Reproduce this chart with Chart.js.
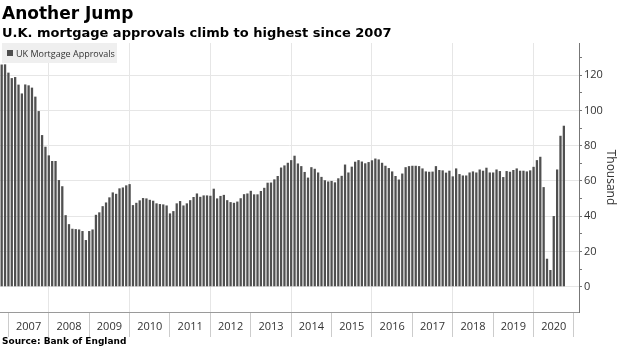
<!DOCTYPE html>
<html>
<head>
<meta charset="utf-8">
<script src="https://cdn.jsdelivr.net/npm/chart.js@4.4.1/dist/chart.umd.min.js"></script>
<style>
  html, body { margin: 0; padding: 0; background: #fff; }
  #wrap { position: relative; width: 620px; height: 348px; overflow: hidden; }
  #chart { position: absolute; left: 0; top: 0; }
  .title { position: absolute; left: 2px; top: 5px; font: bold 17px/1 "DejaVu Sans", sans-serif; color: #000; white-space: nowrap; }
  .subtitle { position: absolute; left: 2px; top: 26px; font: bold 13px/1 "DejaVu Sans", sans-serif; color: #000; white-space: nowrap; }
  .legend { position: absolute; left: 2px; top: 43px; width: 115px; height: 20px; background: #efefef;
            font: 9px/1 "Open Sans", sans-serif; color: #333; display: flex; align-items: center; white-space: nowrap; }
  .legend i { display: inline-block; width: 6px; height: 6px; background: #4f4f4f; margin: 0 3px 0 5px; }
  .source { position: absolute; left: 2px; top: 337px; font: bold 9px/1 "DejaVu Sans", sans-serif; color: #000; white-space: nowrap; }
</style>
</head>
<body>
<div id="wrap">
  <canvas id="chart" width="620" height="348"></canvas>
  <div class="title">Another Jump</div>
  <div class="subtitle">U.K. mortgage approvals climb to highest since 2007</div>
  <div class="legend" id="legend"></div>
  <div class="source">Source: Bank of England</div>
</div>
<script>
// Monthly mortgage approvals for house purchase, thousands (Oct 2006 – Sep 2020)
const approvals2006 = [126.0, 126.1, 121.4];                 // Oct–Dec
const approvals2007 = [118.3, 118.9, 114.6, 109.6, 114.7, 114.2, 112.9, 107.8, 99.6, 86.0, 79.4, 74.5];
const approvals2008 = [71.3, 71.3, 60.5, 57.0, 40.6, 35.5, 32.9, 32.7, 32.5, 31.6, 26.5, 31.6];
const approvals2009 = [32.5, 40.8, 42.2, 45.7, 47.8, 50.7, 53.5, 52.7, 55.8, 56.3, 57.5, 58.2];
const approvals2010 = [46.3, 47.6, 49.0, 50.3, 50.1, 49.3, 48.8, 47.3, 46.9, 46.7, 46.1, 41.6];
const approvals2011 = [42.9, 47.3, 48.6, 46.1, 47.3, 49.1, 50.9, 52.9, 51.0, 51.8, 51.8, 51.6];
const approvals2012 = [55.6, 50.1, 51.5, 52.1, 49.1, 48.0, 47.6, 48.3, 50.2, 52.5, 52.9, 54.4];
const approvals2013 = [52.4, 52.4, 54.3, 56.1, 59.0, 59.1, 60.9, 62.8, 67.6, 68.8, 70.3, 71.8];
const approvals2014 = [74.3, 69.9, 68.4, 65.1, 61.9, 67.8, 66.9, 64.8, 62.3, 60.4, 59.7, 60.0];
const approvals2015 = [59.2, 61.5, 62.9, 69.3, 64.8, 68.1, 70.9, 71.8, 71.0, 70.0, 70.7, 71.7];
const approvals2016 = [72.7, 72.2, 70.3, 68.6, 67.3, 65.4, 62.8, 60.8, 64.2, 67.8, 68.4, 68.6];
const approvals2017 = [68.6, 68.4, 67.1, 65.4, 65.2, 65.3, 68.4, 66.2, 66.0, 64.7, 65.8, 62.6];
const approvals2018 = [67.1, 63.9, 63.1, 63.1, 64.8, 65.4, 64.8, 66.5, 65.8, 67.5, 64.8, 64.8];
const approvals2019 = [66.5, 65.6, 62.2, 65.6, 65.2, 66.2, 67.1, 65.8, 65.8, 65.4, 66.0, 68.0];
const approvals2020 = [71.8, 73.7, 56.5, 15.9, 9.5, 40.1, 66.5, 85.6, 91.3];  // Jan–Sep

// Year names shown under the axis, one per calendar year
const yearTicks = ['2007', '2008', '2009', '2010', '2011', '2012', '2013',
                   '2014', '2015', '2016', '2017', '2018', '2019', '2020'];

const seriesLabel = 'UK Mortgage Approvals';

// Month categories: Oct 2006 through Jan 2021 (the last few are empty space at the right)
const firstYear = 2006, firstMonth = 10, monthCount = 172;
const months = [];
for (let k = 0; k < monthCount; k++) {
  const m = firstMonth - 1 + k;
  months.push(`${firstYear + Math.floor(m / 12)}-${String(m % 12 + 1).padStart(2, '0')}`);
}

const approvals = [].concat(approvals2006, approvals2007, approvals2008, approvals2009,
  approvals2010, approvals2011, approvals2012, approvals2013, approvals2014, approvals2015,
  approvals2016, approvals2017, approvals2018, approvals2019, approvals2020);
while (approvals.length < months.length) approvals.push(null);

// Bars sit at month end, so each December marks a year boundary
const monthOf = i => months[i] ? months[i].slice(5) : '';
const yearOf = i => months[i] ? months[i].slice(0, 4) : '';
const isYearEnd = i => monthOf(i) === '12';
const isGridYear = i => isYearEnd(i) && (Number(yearOf(i)) % 2 === 1);
const CLEAR = 'rgba(0,0,0,0)';

document.getElementById('legend').innerHTML = '<i></i>' + seriesLabel;

new Chart(document.getElementById('chart'), {
  type: 'bar',
  data: {
    labels: months,
    datasets: [{
      label: seriesLabel,
      data: approvals,
      backgroundColor: '#505050',
      borderWidth: 0,
      categoryPercentage: 1.0,
      barPercentage: 0.68
    }]
  },
  options: {
    responsive: false,
    animation: false,
    devicePixelRatio: 1,
    layout: { padding: { top: 43, left: 0, right: 0, bottom: 0 } },
    plugins: { legend: { display: false }, tooltip: { enabled: false }, title: { display: false } },
    scales: {
      x: {
        type: 'category',
        offset: true,
        grid: {
          offset: false,
          drawOnChartArea: true,
          color: ctx => isGridYear(ctx.index) ? '#e6e6e6' : CLEAR,
          tickColor: ctx => isYearEnd(ctx.index) ? '#cccccc' : CLEAR,
          tickLength: 25,
          lineWidth: 1
        },
        border: { display: true, color: '#9a9a9a', width: 1 },
        ticks: {
          autoSkip: false,
          maxRotation: 0,
          minRotation: 0,
          padding: -17,
          color: '#333',
          font: { family: 'Open Sans', size: 11 },
          callback: (v, i) => monthOf(i) === '06' ? yearTicks[yearTicks.indexOf(yearOf(i))] || '' : ''
        },
        afterFit: s => { s.height = 36; }
      },
      y: {
        position: 'right',
        min: -14.3,
        max: 138.2,
        afterBuildTicks: s => { s.ticks = s.ticks.filter(t => Math.abs(t.value % 10) < 1e-6); },
        ticks: {
          stepSize: 10,
          padding: 2,
          color: '#333',
          font: { family: 'Open Sans', size: 11 },
          callback: v => (v % 20 === 0 ? String(v) : '')
        },
        grid: {
          drawOnChartArea: true,
          color: ctx => (ctx.tick && ctx.tick.value % 20 === 0) ? '#e6e6e6' : CLEAR,
          tickColor: '#777',
          tickLength: 3
        },
        border: { display: true, color: '#777', width: 1 },
        title: {
          display: true,
          text: 'Thousand',
          color: '#333',
          font: { family: 'Open Sans', size: 12 },
          padding: { top: 2, bottom: 0 }
        },
        afterFit: s => { s.width = 41; }
      }
    }
  }
});
</script>
</body>
</html>
